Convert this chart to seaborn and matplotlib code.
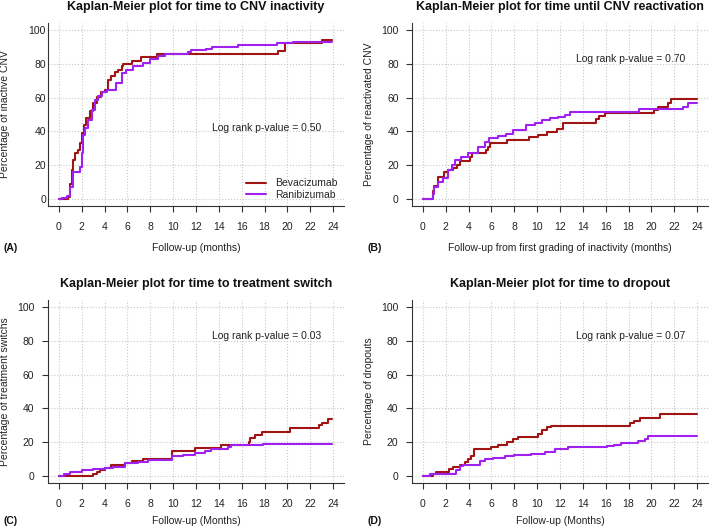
import matplotlib
matplotlib.use("Agg")
import matplotlib.pyplot as plt
import pandas as pd
import seaborn as sns

# --- data (months, cumulative %) ---
groups = ["Bevacizumab", "Ranibizumab"]
colors = {"Bevacizumab": "#A01414", "Ranibizumab": "#A020F0"}
x_ticks = list(range(0, 25, 2))
y_ticks = list(range(0, 101, 20))

# (A) time to CNV inactivity
a_bev_t = [0, 0.8, 1.0, 1.1, 1.2, 1.4, 1.7, 1.85, 2.0, 2.2, 2.4, 2.7, 3.0, 3.3, 3.7, 4.0, 4.3,
           4.6, 4.9, 5.2, 5.5, 5.65, 6.4, 7.2, 8.55, 19.2, 19.8, 23.0, 23.9]
a_bev_v = [0, 1.5, 9, 17, 23, 27, 29, 33, 39, 44, 48, 52, 57, 60.5, 63, 64.5, 70.5,
           72.5, 75, 76.5, 78.5, 80, 81.5, 84, 85.8, 87.5, 92, 94, 94]
a_ran_t = [0, 0.3, 0.7, 0.96, 1.25, 1.85, 2.0, 2.1, 2.3, 2.57, 2.86, 3.15, 3.45, 3.75, 4.2, 5.0,
           5.5, 5.9, 6.5, 7.4, 8.0, 8.7, 9.3, 11.3, 11.6, 12.9, 13.4, 15.7, 19.1, 20.5, 23.9]
a_ran_v = [0, 1, 2, 7.5, 16, 19, 27, 38, 42, 46.5, 52.5, 58.5, 61, 63, 64.5, 68.5,
           74.5, 76.5, 78.5, 80.5, 82.5, 84.3, 85.8, 86.8, 87.8, 88.8, 89.9, 91, 92, 92.8, 92.8]

# (B) time until CNV reactivation
b_bev_t = [0, 0.9, 1.0, 1.3, 1.8, 2.2, 2.6, 3.0, 3.2, 4.1, 4.3, 5.5, 5.7, 5.9, 7.4, 9.3, 10.1,
           10.9, 11.7, 12.3, 15.15, 15.4, 15.9, 20.2, 20.6, 21.5, 21.7, 24.0]
b_bev_v = [0, 5, 8, 13, 16, 17.5, 18.5, 20, 22.5, 25, 27, 29, 31, 33, 35, 36.5, 38,
           39.5, 41.5, 45, 47.2, 49, 50.7, 52.7, 54.6, 56.6, 59, 59]
b_ran_t = [0, 0.88, 1.0, 1.3, 1.75, 2.2, 2.5, 2.83, 3.36, 3.95, 4.8, 5.4, 5.8, 6.6, 7.3, 7.9,
           9.05, 9.8, 10.4, 11.1, 11.8, 12.4, 12.9, 18.9, 22.8, 23.2, 24.0]
b_ran_v = [0, 3, 7.3, 10.2, 12.8, 17.2, 20, 23, 25, 27.5, 31, 34, 36.3, 37.3, 38.5, 40.8,
           43.8, 45.2, 46.7, 47.7, 48.7, 49.7, 51.7, 53, 54.6, 56.6, 56.6]

# (C) time to treatment switch
c_bev_t = [0, 3.0, 3.3, 3.6, 4.0, 4.6, 5.8, 6.4, 7.4, 9.9, 11.9, 14.2, 16.6, 16.75, 17.2,
           17.75, 20.2, 22.8, 23.0, 23.6, 23.9]
c_bev_v = [0, 1.6, 2.6, 3.6, 4.9, 6.5, 7.9, 9.1, 10.4, 15.0, 16.4, 18.3, 20, 22.3, 24.3,
           26.2, 28.2, 30, 31.5, 33.5, 33.5]
c_ran_t = [0, 0.4, 1.0, 2.0, 3.0, 4.0, 4.75, 5.8, 6.9, 7.8, 9.9, 10.9, 11.9, 12.8, 13.3,
           14.8, 15.1, 17.9, 23.9]
c_ran_v = [0, 1.2, 2.2, 3.6, 4.4, 5.0, 5.5, 7.9, 8.5, 9.8, 11.8, 12.8, 13.8, 15.0, 15.8,
           17.4, 18.3, 19.3, 19.3]

# (D) time to dropout
d_bev_t = [0, 0.9, 1.17, 2.3, 2.6, 3.2, 3.65, 3.95, 4.2, 4.45, 6.0, 6.6, 7.4, 7.9, 8.3,
           10.1, 10.4, 10.9, 11.2, 18.1, 18.5, 19.0, 20.75, 24.0]
d_bev_v = [0, 1.2, 2.6, 4.0, 5.5, 6.5, 8.5, 9.9, 11.8, 16.0, 17.4, 18.7, 20.3, 21.9, 23.3,
           25.2, 27.2, 28.8, 29.8, 31.5, 32.5, 34.1, 36.7, 36.7]
d_ran_t = [0, 0.6, 1.3, 2.9, 3.2, 3.5, 4.96, 5.4, 6.1, 7.15, 8.0, 9.5, 10.7, 11.6, 12.7,
           16.1, 16.7, 17.3, 18.85, 19.4, 19.7, 24.0]
d_ran_v = [0, 1.2, 1.6, 3.6, 5.9, 6.9, 9.1, 9.9, 11.0, 11.8, 12.3, 13.4, 14.4, 15.8, 17.0,
           17.6, 18.5, 19.7, 20.5, 21.7, 23.9, 23.9]


def km_frame(bev_t, bev_v, ran_t, ran_v):
    return pd.concat([
        pd.DataFrame({"time": bev_t, "pct": bev_v, "group": groups[0]}),
        pd.DataFrame({"time": ran_t, "pct": ran_v, "group": groups[1]}),
    ], ignore_index=True)


sns.set_style("ticks")
plt.rcParams["font.family"] = ["Liberation Sans", "DejaVu Sans"]

W, H = 709, 528
fig = plt.figure(figsize=(W / 100, H / 100), dpi=100)
FS = 7.5


def panel(left, top, df, title, xlabel, ylabel, tag, ptext, pxy, ylen, ypad,
          xlab_off=42, legend=False):
    right, bottom = left + 296, top + 183
    ax = fig.add_axes([left / W, 1 - bottom / H, (right - left) / W, (bottom - top) / H])
    ax.set_axisbelow(True)
    sns.lineplot(data=df, x="time", y="pct", hue="group", palette=colors,
                 drawstyle="steps-post", estimator=None, linewidth=1.5,
                 legend=legend, ax=ax)
    ax.set_xlim(-0.96, 24.96)
    ax.set_ylim(-4, 104)
    ax.set_xticks(x_ticks)
    ax.set_yticks(y_ticks)
    ax.grid(True, color="#c8c8c8", linestyle=":", linewidth=0.8)
    sns.despine(ax=ax)
    for s in ["left", "bottom"]:
        ax.spines[s].set_color("#333333")
        ax.spines[s].set_linewidth(0.8)
    ax.tick_params(axis="x", length=4, width=0.8, pad=7.5, labelsize=FS,
                   color="#333333", labelcolor="#222222")
    ax.tick_params(axis="y", length=ylen, width=0.8, pad=ypad, labelsize=FS,
                   color="#333333", labelcolor="#222222")
    ax.set_xlabel(xlabel, fontsize=FS, color="#222222", va="center")
    ax.set_ylabel(ylabel, fontsize=FS, color="#222222", va="center")
    ax.xaxis.set_label_coords(0.5, -xlab_off / 183)
    ax.yaxis.set_label_coords(-43 / 296, 0.5)
    ax.text(0.5, 1 + 16 / 183, title, transform=ax.transAxes, ha="center", va="center",
            fontsize=9, fontweight="bold", color="#111111")
    ax.text(pxy[0], pxy[1], ptext, ha="center", va="center", fontsize=FS, color="#222222")
    fig.text((left - 44) / W, 1 - (bottom + xlab_off) / H, tag, ha="left", va="center",
             fontsize=FS, fontweight="bold", color="#111111")
    if legend:
        sns.move_legend(ax, "lower right", bbox_to_anchor=(1.0, 0.0), frameon=False,
                        title="", fontsize=FS, handlelength=1.9, handletextpad=0.9,
                        labelspacing=0.15, borderaxespad=0.2, borderpad=0.4)
    return ax


panel(48, 23, km_frame(a_bev_t, a_bev_v, a_ran_t, a_ran_v),
      "Kaplan-Meier plot for time to CNV inactivity", "Follow-up (months)",
      "Percentage of inactive CNV", "(A)", "Log rank p-value = 0.50", (18.2, 42),
      ylen=0, ypad=1.5, legend=True)
panel(412, 23, km_frame(b_bev_t, b_bev_v, b_ran_t, b_ran_v),
      "Kaplan-Meier plot for time until CNV reactivation",
      "Follow-up from first grading of inactivity (months)",
      "Percentage of reactivated CNV", "(B)", "Log rank p-value = 0.70", (18.2, 83),
      ylen=4, ypad=5.5)
panel(48, 300, km_frame(c_bev_t, c_bev_v, c_ran_t, c_ran_v),
      "Kaplan-Meier plot for time to treatment switch", "Follow-up (Months)",
      "Percentage of treatment switchs", "(C)", "Log rank p-value = 0.03", (18.2, 83),
      ylen=4, ypad=6, xlab_off=37.5)
panel(412, 300, km_frame(d_bev_t, d_bev_v, d_ran_t, d_ran_v),
      "Kaplan-Meier plot for time to dropout", "Follow-up (Months)",
      "Percentage of dropouts", "(D)", "Log rank p-value = 0.07", (18.2, 83),
      ylen=4, ypad=6, xlab_off=37.5)

fig.savefig("out.png", dpi=100)
